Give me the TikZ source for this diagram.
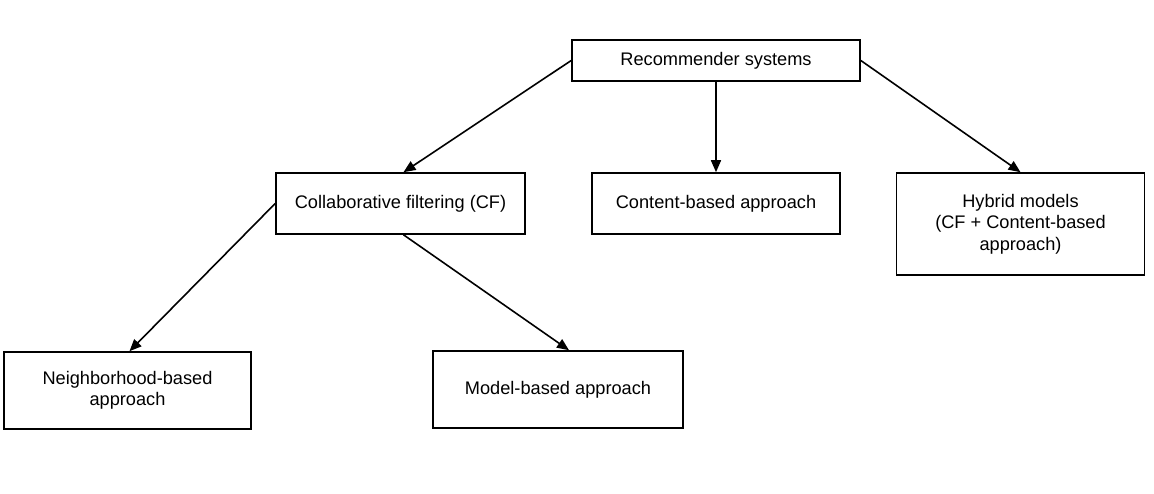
\documentclass[tikz,border=0pt]{standalone}
\usepackage{fontspec}
\setmainfont{Liberation Sans}
\usetikzlibrary{arrows.meta}
\begin{document}
\begin{tikzpicture}[x=1pt,y=-1pt,
  box/.style={draw, line width=1.6pt, inner sep=0pt, align=center,
    font=\fontsize{18.2}{21.5}\selectfont},
  arr/.style={line width=1.6pt, -{Triangle[length=12pt,width=10pt]}}]
\useasboundingbox (0,0) rectangle (1154,494);
\node[box, minimum width=288, minimum height=41] (rec) at (716,60.5) {Recommender systems};
\node[box, minimum width=249, minimum height=61] (cf) at (400.5,203.5) {Collaborative filtering (CF)};
\node[box, minimum width=248, minimum height=61] (cb) at (716,203.5) {Content-based approach};
\node[box, minimum width=248, minimum height=102] (hy) at (1020.5,224) {Hybrid models\\(CF + Content-based\\approach)};
\node[box, minimum width=247, minimum height=77] (nb) at (127.5,390.5) {Neighborhood-based\\approach};
\node[box, minimum width=250, minimum height=77] (mb) at (558,389.5) {Model-based approach};
\draw[arr] (rec.west) -- ([xshift=3pt]cf.north);
\draw[arr] (rec.south) -- (cb.north);
\draw[arr] (rec.east) -- (hy.north);
\draw[arr] (cf.west) -- ([xshift=2pt]nb.north);
\draw[arr] ([xshift=3pt]cf.south) -- ([xshift=11pt]mb.north);
\end{tikzpicture}
\end{document}
